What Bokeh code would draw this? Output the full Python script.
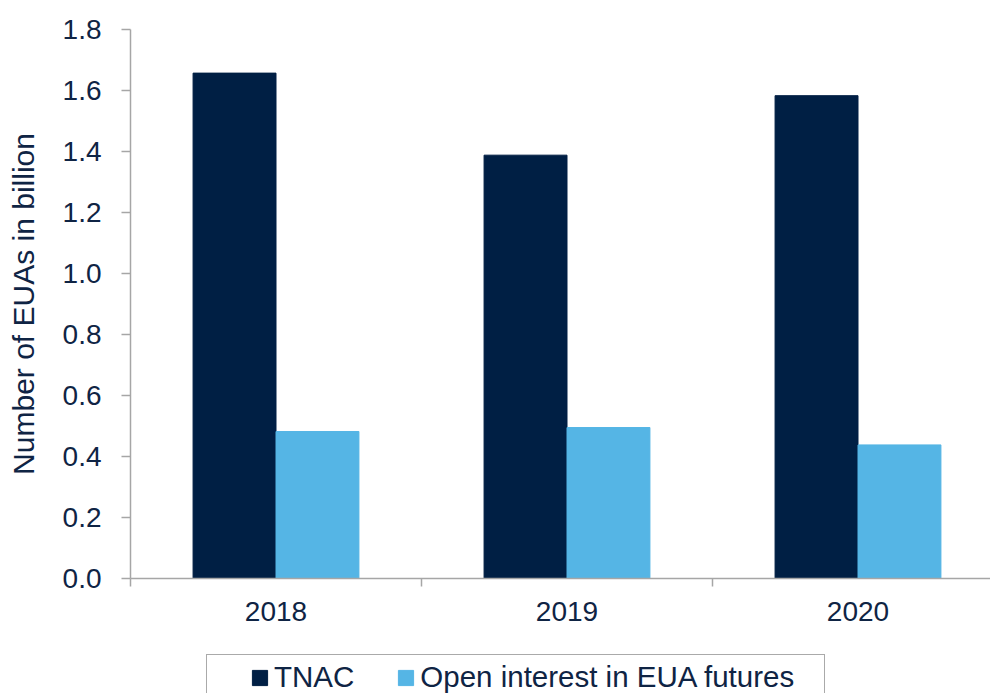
from bokeh.plotting import figure
from bokeh.layouts import column
from bokeh.models import Range1d, FixedTicker, Legend, LegendItem, ColumnDataSource, PrintfTickFormatter
from bokeh.transform import dodge
from bokeh.embed import file_html
from bokeh.resources import INLINE

years = ["2018", "2019", "2020"]
tnac = [1.657, 1.388, 1.583]
open_interest = [0.482, 0.495, 0.438]
y_ticks = [0.0, 0.2, 0.4, 0.6, 0.8, 1.0, 1.2, 1.4, 1.6, 1.8]

DARK = "#001F44"
LIGHT = "#55B5E5"
TEXT = "#0F2444"
AXIS = "#A6A6A6"
FONT = "Liberation Sans"

centers = [i + 0.5 for i in range(len(years))]
src = ColumnDataSource(dict(x=centers, tnac=tnac, oi=open_interest))

p = figure(width=990, height=650, output_backend="svg", toolbar_location=None,
           x_range=Range1d(0, 860 / 291), y_range=Range1d(0, 1.8),
           min_border_left=130, min_border_top=29, min_border_bottom=72, min_border_right=0)
p.outline_line_color = None
p.xgrid.visible = False
p.ygrid.visible = False

bw = 0.285
r1 = p.vbar(x=dodge("x", -bw / 2, range=p.x_range), top="tnac", width=bw, source=src,
            fill_color=DARK, line_color=DARK)
r2 = p.vbar(x=dodge("x", bw / 2, range=p.x_range), top="oi", width=bw, source=src,
            fill_color=LIGHT, line_color=LIGHT)

# x axis
xa = p.xaxis[0]
xa.ticker = FixedTicker(ticks=centers, minor_ticks=[0, 1, 2, 3])
xa.major_label_overrides = {c: y for c, y in zip(centers, years)}
xa.major_tick_out = 0
xa.major_tick_in = 0
xa.minor_tick_out = 8
xa.minor_tick_in = 0
xa.minor_tick_line_color = AXIS
xa.minor_tick_line_width = 1.5
xa.axis_line_color = AXIS
xa.axis_line_width = 1.5
xa.major_label_standoff = 15
xa.major_label_text_font = FONT
xa.major_label_text_font_size = "28px"
xa.major_label_text_color = TEXT

# y axis
ya = p.yaxis[0]
ya.ticker = FixedTicker(ticks=y_ticks, minor_ticks=[])
ya.formatter = PrintfTickFormatter(format="%.1f")
ya.major_tick_out = 9
ya.major_tick_in = 0
ya.major_tick_line_color = AXIS
ya.major_tick_line_width = 1.5
ya.axis_line_color = AXIS
ya.axis_line_width = 1.5
ya.major_label_standoff = 20
ya.major_label_text_font = FONT
ya.major_label_text_font_size = "28px"
ya.major_label_text_color = TEXT
ya.axis_label = "Number of EUAs in billion"
ya.axis_label_text_font = FONT
ya.axis_label_text_font_size = "30px"
ya.axis_label_text_font_style = "normal"
ya.axis_label_text_color = TEXT
ya.axis_label_standoff = 20

# legend strip below the chart (frame aligned with the chart above)
q = figure(width=990, height=43, output_backend="svg", toolbar_location=None,
           x_range=Range1d(0, 1), y_range=Range1d(100, 101),
           x_axis_location=None, y_axis_location=None,
           min_border=0, min_border_left=0, min_border_right=0, min_border_top=0, min_border_bottom=0)
q.outline_line_color = None
q.xgrid.visible = False
q.ygrid.visible = False
k1 = q.vbar(x="x", top="tnac", width=bw, source=src, fill_color=DARK, line_color=DARK)
k2 = q.vbar(x="x", top="oi", width=bw, source=src, fill_color=LIGHT, line_color=LIGHT)

legend = Legend(items=[LegendItem(label="TNAC", renderers=[k1]),
                       LegendItem(label="Open interest in EUA futures   ", renderers=[k2])],
                orientation="horizontal", location=(76, -7),
                title=" ", title_location="left", title_standoff=27,
                title_text_font_size="10px",
                glyph_width=19, glyph_height=19, label_standoff=5, spacing=42,
                padding=5, margin=0,
                label_text_font=FONT, label_text_font_size="29.5px", label_text_color=TEXT,
                border_line_color="#555555", border_line_width=1.5,
                background_fill_alpha=0)
q.add_layout(legend)

layout = column(p, q, spacing=0)
open("out.html", "w").write(file_html(layout, INLINE))
